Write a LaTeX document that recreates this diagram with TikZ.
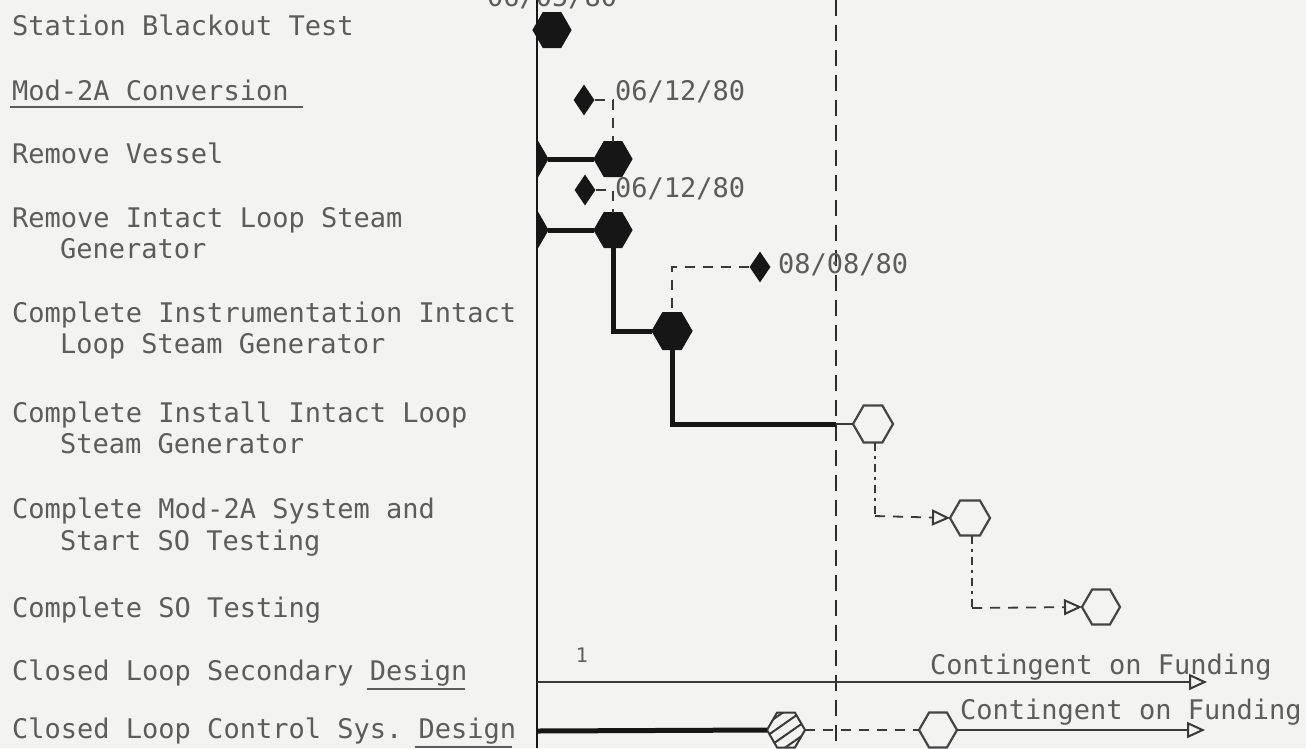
\documentclass[tikz,border=0pt]{standalone}
\usepackage{fontspec}
\setmonofont{DejaVu Sans Mono}
\usetikzlibrary{shapes.symbols,shapes.geometric,arrows.meta,patterns.meta}
\definecolor{bg}{RGB}{243,243,241}
\definecolor{ink}{RGB}{22,22,22}
\definecolor{txt}{RGB}{92,92,92}
\begin{document}
\begin{tikzpicture}[x=1pt,y=-1pt,
 lbl/.style={anchor=base west, inner sep=0pt, text=txt, font=\ttfamily\fontsize{27}{31}\selectfont},
 hexbase/.style={signal, signal to=east and west, signal pointer angle=120, minimum width=38pt, minimum height=35pt, inner sep=0pt, outer sep=0pt},
 hexfill/.style={hexbase, fill=ink, draw=ink, line width=1pt},
 hexopen/.style={hexbase, draw=ink!80, line width=2.2pt, fill=bg},
 hexhatch/.style={hexbase, draw=ink!85, line width=2pt, pattern={Lines[angle=35,distance=10pt,line width=2pt]}, pattern color=ink!85},
 dia/.style={diamond, fill=ink, inner sep=0pt, minimum width=21pt, minimum height=31pt},
 thickln/.style={line width=5pt, draw=ink},
 thinln/.style={line width=2pt, draw=ink!85},
 dsh/.style={draw=ink!85, line width=1.8pt, dash pattern=on 10pt off 8pt},
 dshdot/.style={draw=ink!85, line width=1.6pt, dash pattern=on 8pt off 5pt on 3pt off 5pt},
 opentip/.style={-{Triangle[open,length=18pt,width=16pt,line width=2pt]}},
 uline/.style={draw=txt, line width=1.5pt},
]
\useasboundingbox (0,0) rectangle (1306,748);
\clip (0,0) rectangle (1306,748);
\fill[bg] (0,0) rectangle (1306,748);

% row labels
\node[lbl] (t1) at (12,35) {Station Blackout Test};
\node[lbl] (t2) at (12,100) {Mod-2A Conversion};
\node[lbl] (t3) at (12,163) {Remove Vessel};
\node[lbl] (t4a) at (12,227) {Remove Intact Loop Steam};
\node[lbl] (t4b) at (60,258) {Generator};
\node[lbl] (t5a) at (12,322) {Complete Instrumentation Intact};
\node[lbl] (t5b) at (60,353) {Loop Steam Generator};
\node[lbl] (t6a) at (12,422) {Complete Install Intact Loop};
\node[lbl] (t6b) at (60,453) {Steam Generator};
\node[lbl] (t7a) at (12,518) {Complete Mod-2A System and};
\node[lbl] (t7b) at (60,550) {Start SO Testing};
\node[lbl] (t8) at (12,617) {Complete SO Testing};
\node[lbl] (t9) at (12,680) {Closed Loop Secondary Design};
\node[lbl] (t10) at (12,738) {Closed Loop Control Sys. Design};
\coordinate (u1a) at (10,107); \coordinate (u1b) at (303,107);
\coordinate (u2a) at (367,689); \coordinate (u2b) at (465,689);
\coordinate (u3a) at (415,747); \coordinate (u3b) at (512,747);
\draw[uline] (u1a) -- (u1b);
\draw[uline] (u2a) -- (u2b);
\draw[uline] (u3a) -- (u3b);

% axes
\coordinate (vt) at (537,0); \coordinate (vb) at (537,748);
\coordinate (dt) at (836,0); \coordinate (db) at (836,748);
\draw[ink, line width=2.2pt] (vt) -- (vb);
\draw[ink!90, line width=2.5pt, dash pattern=on 16pt off 9pt] (dt) -- (db);

% station blackout
\node[hexfill] (h0) at (552,30) {};
\node[lbl] (d0) at (487,6) {06/05/80};

% half hexes on the axis
\begin{scope}
\clip (537,0) rectangle (1306,748);
\node[hexfill] (h1L) at (529,159) {};
\node[hexfill] (h2L) at (529,230) {};
\end{scope}

% milestones
\node[hexfill] (h1) at (613,159) {};
\node[hexfill] (h2) at (613,230) {};
\node[hexfill, minimum width=40pt, minimum height=37pt] (h3) at (672,331) {};
\node[hexopen, minimum width=40pt, minimum height=37pt] (h4) at (873,424) {};
\node[hexopen, minimum width=40pt] (h5) at (970,518) {};
\node[hexopen] (h6) at (1101,607) {};

\node[dia] (m1) at (584,100) {};
\node[lbl] (l1) at (615,100) {06/12/80};
\node[dia] (m2) at (585,190) {};
\node[lbl] (l2) at (615,197) {06/12/80};
\node[dia] (m3) at (760,267) {};
\node[lbl] (l3) at (778,273) {08/08/80};

\draw[dsh] (m1.east) -| (h1.north);
\draw[dsh] (m2.east) -| (h2.north);
\draw[dsh] (m3.west) -| (h3.north);

\draw[thickln] (h1L) -- (h1);
\draw[thickln] (h2L) -- (h2);
\draw[thickln] (h2) |- (h3);
\coordinate (c1) at (836,424);
\draw[thickln] (h3) |- (c1);
\draw[thinln] (c1) -- (h4.west);

\coordinate (c2) at (875,516);
\draw[dshdot] (h4.south -| c2) -- (c2);
\draw[dsh, opentip] (c2) -- (h5.west);
\coordinate (c3) at (972,608);
\draw[dshdot] (h5.south -| c3) -- (c3);
\draw[dsh, opentip] (c3) -- (h6.west);

% closed loop secondary design
\node[inner sep=0pt, anchor=base, text=txt, font=\ttfamily\fontsize{20}{22}\selectfont] (one) at (582,662) {1};
\coordinate (s0) at (537,682); \coordinate (s1) at (1207,682);
\draw[thinln, opentip] (s0) -- (s1);
\node[lbl] (cf1) at (930,674) {Contingent on Funding};

% closed loop control sys design
\node[hexhatch] (hh) at (786,730) {};
\node[hexopen] (h7) at (938,730) {};
\coordinate (b0) at (537,731); \coordinate (b1) at (1205,730);
\draw[thickln] (b0) -- (hh.west);
\draw[dsh] (hh.east) -- (h7.west);
\draw[thinln, opentip] (h7.east) -- (b1);
\node[lbl] (cf2) at (960,719) {Contingent on Funding};
\end{tikzpicture}
\end{document}
